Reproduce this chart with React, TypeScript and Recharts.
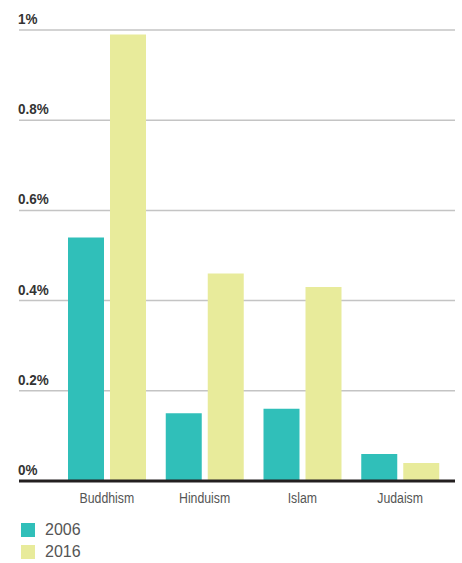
import React from 'react';
import { BarChart, Bar, XAxis, YAxis, CartesianGrid } from 'recharts';

const religions = ['Buddhism', 'Hinduism', 'Islam', 'Judaism'];
const share2006 = [0.54, 0.15, 0.16, 0.06];
const share2016 = [0.99, 0.46, 0.43, 0.04];
const yTicks = [0, 0.2, 0.4, 0.6, 0.8, 1];
const yTickLabels = ['0%', '0.2%', '0.4%', '0.6%', '0.8%', '1%'];

const TEAL = '#30bfb9';
const LIME = '#e8eb9b';

const data = religions.map((name, i) => ({ name, y2006: share2006[i], y2016: share2016[i] }));

const YTick = (props: any) => {
  const { y, payload } = props;
  const idx = yTicks.indexOf(payload.value);
  return (
    <g transform={`translate(18,${y - 6}) scale(0.9,1)`}>
      <text x={0} y={0} textAnchor="start" fontSize={15} fontWeight="bold"
        fontFamily="'Liberation Sans', Arial, sans-serif" fill="#333">
        {yTickLabels[idx]}
      </text>
    </g>
  );
};

// condensed look: squeeze Liberation Sans horizontally
const XTick = (props: any) => {
  const { x, y, payload } = props;
  return (
    <g transform={`translate(${x},${y + 22}) scale(0.82,1)`}>
      <text x={0} y={0} textAnchor="middle" fontSize={15}
        fontFamily="'Liberation Sans', Arial, sans-serif" fill="#555">
        {payload.value}
      </text>
    </g>
  );
};

const legendItems = [
  { label: '2006', color: TEAL, top: 523 },
  { label: '2016', color: LIME, top: 545 },
];

export default function App() {
  return (
    <div style={{ position: 'absolute', left: 0, top: 0, width: 462, height: 563, background: '#fff' }}>
      <BarChart width={462} height={563} data={data} barSize={36} barGap={6}
        margin={{ top: 30, right: 7, left: 0, bottom: 42 }}>
        <CartesianGrid vertical={false} stroke="#c4c4c4" strokeWidth={1.5} />
        <YAxis width={19} domain={[0, 1]} ticks={yTicks} axisLine={false} tickLine={false} tick={<YTick />} />
        <XAxis dataKey="name" height={40} padding={{ left: 39, right: 6 }} tickLine={false} tickSize={0}
          tickMargin={0} axisLine={{ stroke: '#231f20', strokeWidth: 3 }} tick={<XTick />} />
        <Bar dataKey="y2006" fill={TEAL} isAnimationActive={false} />
        <Bar dataKey="y2016" fill={LIME} isAnimationActive={false} />
      </BarChart>
      {legendItems.map((it) => (
        <div key={it.label} style={{ position: 'absolute', left: 21, top: it.top, display: 'flex', alignItems: 'center' }}>
          <div style={{ width: 14, height: 14, background: it.color }} />
          <span style={{ marginLeft: 10, fontSize: 16, lineHeight: '14px', color: '#555',
            fontFamily: "'Liberation Sans', Arial, sans-serif" }}>{it.label}</span>
        </div>
      ))}
    </div>
  );
}
